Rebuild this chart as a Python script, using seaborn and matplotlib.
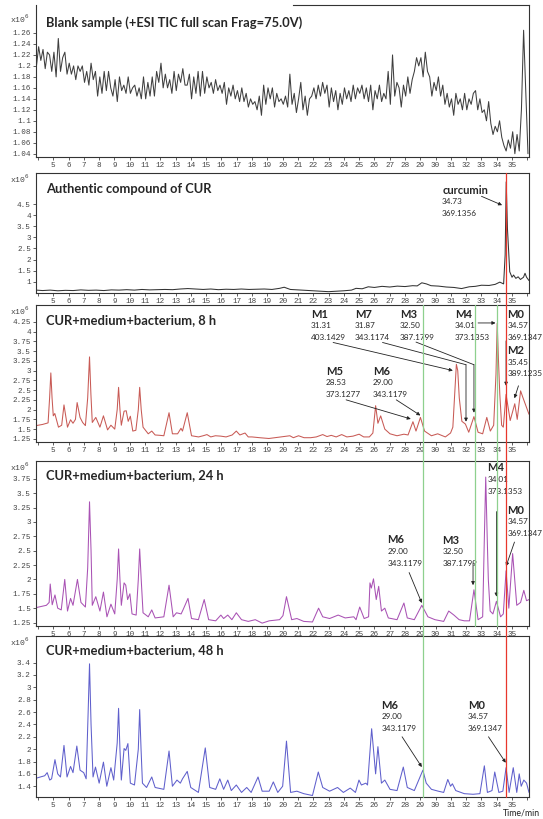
import matplotlib
matplotlib.use("Agg")
import matplotlib.pyplot as plt
import matplotlib.transforms as mtransforms
from matplotlib.lines import Line2D
import numpy as np
import seaborn as sns

W, H, DPI = 543, 819, 100

# ---------------------------------------------------------------- data
# blank sample TIC, one reading every 1/7 min starting at 3.9 min (x10^6)
blank_start = 3.9
blank_step = 1 / 7
blank_v = [
    1.20, 1.235, 1.21, 1.23, 1.195, 1.225, 1.22, 1.19,          # 3.9-5
    1.225, 1.18, 1.25, 1.19, 1.215, 1.225, 1.185,                # 5-6
    1.205, 1.185, 1.20, 1.175, 1.20, 1.19, 1.20,                 # 6-7
    1.17, 1.19, 1.165, 1.205, 1.175, 1.19, 1.145,                # 7-8
    1.18, 1.15, 1.19, 1.155, 1.19, 1.16, 1.145,                  # 8-9
    1.175, 1.135, 1.18, 1.155, 1.165, 1.15, 1.18,                # 9-10
    1.15, 1.16, 1.165, 1.145, 1.16, 1.14, 1.18,                  # 10-11
    1.14, 1.17, 1.145, 1.18, 1.145, 1.19, 1.17,                  # 11-12
    1.205, 1.16, 1.185, 1.16, 1.175, 1.15, 1.19,                 # 12-13
    1.155, 1.185, 1.17, 1.195, 1.165, 1.165, 1.185,              # 13-14
    1.14, 1.18, 1.15, 1.19, 1.145, 1.19, 1.15,                   # 14-15
    1.18, 1.16, 1.17, 1.15, 1.175, 1.155, 1.165,                 # 15-16
    1.15, 1.17, 1.13, 1.16, 1.145, 1.165, 1.14,                  # 16-17
    1.155, 1.135, 1.16, 1.135, 1.15, 1.125, 1.14,                # 17-18
    1.13, 1.135, 1.12, 1.145, 1.11, 1.165, 1.13,                 # 18-19
    1.16, 1.14, 1.16, 1.125, 1.15, 1.135, 1.14,                  # 19-20
    1.13, 1.145, 1.125, 1.185, 1.13, 1.15, 1.115,                # 20-21
    1.14, 1.17, 1.12, 1.145, 1.11, 1.14, 1.145,                  # 21-22
    1.16, 1.14, 1.165, 1.145, 1.17, 1.15, 1.165,                 # 22-23
    1.125, 1.16, 1.135, 1.155, 1.12, 1.15, 1.13,                 # 23-24
    1.16, 1.14, 1.155, 1.135, 1.165, 1.14, 1.16,                 # 24-25
    1.15, 1.165, 1.14, 1.16, 1.135, 1.165, 1.12,                 # 25-26
    1.155, 1.14, 1.165, 1.135, 1.15, 1.14, 1.19,                 # 26-27
    1.13, 1.22, 1.145, 1.17, 1.16, 1.125, 1.165,                 # 27-28
    1.145, 1.18, 1.15, 1.175, 1.19, 1.215, 1.20,                 # 28-29
    1.215, 1.18, 1.225, 1.19, 1.18, 1.145, 1.17,                 # 29-30
    1.155, 1.18, 1.145, 1.165, 1.13, 1.15, 1.125,                # 30-31
    1.14, 1.11, 1.15, 1.13, 1.14, 1.12, 1.15,                    # 31-32
    1.12, 1.14, 1.13, 1.15, 1.155, 1.12, 1.14,                   # 32-33
    1.115, 1.12, 1.10, 1.135, 1.095, 1.075, 1.09,                # 33-34
    1.08, 1.10, 1.07, 1.055, 1.045, 1.065, 1.05,                 # 34-35
    1.08, 1.04, 1.075, 1.045, 1.12, 1.265, 1.15, 1.04,           # 35-36
]

# authentic curcumin standard
cur_t = [3.9, 4.3, 4.8, 5.3, 5.8, 6.3, 6.8, 7.3, 7.8, 8.3, 8.8, 9.3, 9.8, 10.3,
         10.8, 11.3, 11.8, 12.3, 12.8, 13.3, 13.8, 14.3, 14.8, 15.3, 15.8, 16.3,
         16.8, 17.3, 17.8, 18.3, 18.8, 19.3, 19.8, 20.1, 20.5, 21.0, 21.5, 22.0,
         22.5, 23.0, 23.5, 24.0, 24.5, 24.8, 25.2, 25.6, 26.0, 26.5, 27.0, 27.5,
         28.0, 28.5, 28.8, 29.1, 29.4, 29.7, 30.2, 30.7, 31.2, 31.7, 32.2, 32.6,
         33.0, 33.5, 33.9, 34.2, 34.45, 34.55, 34.62, 34.7, 34.85, 35.0, 35.1,
         35.25, 35.4, 35.55, 35.75, 35.85, 35.95, 36.11]
cur_v = [0.62, 0.6, 0.62, 0.59, 0.61, 0.6, 0.63, 0.61, 0.62, 0.6, 0.63, 0.62,
         0.64, 0.62, 0.65, 0.63, 0.64, 0.65, 0.64, 0.67, 0.69, 0.67, 0.65, 0.67,
         0.64, 0.66, 0.65, 0.67, 0.65, 0.66, 0.67, 0.65, 0.7, 0.75, 0.65, 0.63,
         0.61, 0.59, 0.57, 0.55, 0.57, 0.59, 0.62, 0.7, 0.68, 0.77, 0.74, 0.79,
         0.76, 0.8, 0.78, 0.82, 0.81, 0.95, 0.9, 0.82, 0.8, 0.76, 0.74, 0.69,
         0.77, 0.79, 0.84, 0.83, 0.88, 0.98, 0.9, 2.2, 5.5, 3.4, 1.45, 1.2, 1.3,
         1.15, 1.22, 1.1, 1.2, 1.38, 1.2, 1.05]

# CUR + medium + bacterium, 8 h
h8_t = [3.88, 4.3, 4.66, 4.76, 4.84, 4.92, 5.0, 5.1, 5.34, 5.55, 5.7, 5.93, 6.13,
        6.29, 6.45, 6.56, 6.75, 6.92, 7.1, 7.25, 7.37, 7.46, 7.55, 7.78, 8.05,
        8.28, 8.55, 8.77, 9.02, 9.18, 9.27, 9.36, 9.45, 9.63, 9.77, 9.9, 10.04,
        10.2, 10.4, 10.56, 10.65, 10.75, 10.87, 11.21, 11.44, 11.66, 12.0, 12.23,
        12.57, 12.79, 13.13, 13.35, 13.45, 13.76, 14.04, 14.5, 14.8, 15.05, 15.3,
        15.6, 15.96, 16.3, 16.7, 16.97, 17.2, 17.54, 17.75, 17.99, 18.5, 19.1,
        19.5, 19.9, 20.47, 20.7, 21.04, 21.4, 21.83, 22.2, 22.62, 22.9, 23.18,
        23.5, 23.86, 24.2, 24.6, 25.0, 25.3, 25.67, 25.9, 26.08, 26.23, 26.41,
        26.68, 27.02, 27.48, 27.93, 28.2, 28.52, 28.72, 29.01, 29.28, 29.73,
        30.14, 30.64, 30.98, 31.13, 31.28, 31.36, 31.45, 31.55, 31.72, 31.95,
        32.17, 32.51, 32.78, 33.08, 33.35, 33.58, 33.8, 33.95, 34.03, 34.12,
        34.2, 34.32, 34.43, 34.61, 34.88, 35.18, 35.34, 35.56, 35.72, 36.11]
h8_v = [1.59, 1.62, 1.66, 2.3, 2.94, 2.3, 1.84, 1.9, 1.55, 1.6, 2.12, 1.55, 1.74,
        1.65, 1.75, 2.18, 1.8, 1.67, 1.59, 2.3, 3.35, 2.4, 1.67, 1.8, 1.55, 1.84,
        1.48, 1.6, 1.5, 2.0, 2.57, 2.0, 1.6, 1.96, 1.97, 1.7, 1.83, 1.45, 1.47,
        2.0, 2.57, 2.0, 1.55, 1.38, 1.45, 1.35, 1.34, 1.33, 1.92, 1.38, 1.38,
        1.52, 1.45, 1.92, 1.33, 1.3, 1.33, 1.36, 1.3, 1.33, 1.32, 1.3, 1.35,
        1.45, 1.35, 1.4, 1.3, 1.3, 1.28, 1.26, 1.28, 1.3, 1.33, 1.28, 1.33,
        1.28, 1.28, 1.3, 1.36, 1.31, 1.34, 1.3, 1.36, 1.3, 1.32, 1.37, 1.3, 1.3,
        1.4, 2.1, 1.65, 1.84, 1.5, 1.38, 1.33, 1.37, 1.35, 1.69, 1.45, 1.8,
        1.45, 1.33, 1.38, 1.3, 1.4, 1.55, 2.6, 3.16, 3.0, 2.3, 1.7, 1.63, 1.42,
        1.82, 1.42, 1.38, 1.8, 1.45, 1.6, 2.9, 4.21, 3.2, 2.4, 1.6, 1.55, 2.39,
        1.72, 2.15, 1.75, 2.48, 2.3, 1.88]

# CUR + medium + bacterium, 24 h
h24_t = [3.88, 4.55, 4.73, 4.8, 4.93, 5.11, 5.29, 5.52, 5.75, 5.93, 6.13, 6.29,
         6.58, 6.81, 7.1, 7.25, 7.37, 7.47, 7.55, 7.78, 8.05, 8.28, 8.51, 8.77,
         9.02, 9.18, 9.27, 9.36, 9.45, 9.63, 9.74, 9.86, 10.01, 10.15, 10.42,
         10.56, 10.65, 10.75, 10.87, 11.21, 11.44, 11.66, 12.23, 12.57, 12.84,
         13.06, 13.36, 13.5, 13.81, 14.04, 14.49, 14.87, 15.16, 15.62, 15.96,
         16.14, 16.41, 16.68, 16.97, 17.31, 17.75, 18.21, 18.66, 19.12, 19.8,
         20.02, 20.25, 20.59, 20.93, 21.38, 21.95, 22.35, 22.62, 23.07, 23.63,
         24.09, 24.65, 24.8, 25.04, 25.33, 25.62, 25.71, 25.8, 25.94, 26.12,
         26.28, 26.46, 26.68, 26.91, 27.48, 27.93, 28.15, 28.61, 29.1, 29.5,
         29.96, 30.53, 30.86, 31.2, 31.54, 31.88, 32.22, 32.51, 32.78, 33.08,
         33.18, 33.28, 33.38, 33.45, 33.57, 33.75, 33.98, 34.25, 34.43, 34.61,
         34.79, 35.04, 35.31, 35.56, 35.77, 35.95, 36.11]
h24_v = [1.51, 1.55, 1.6, 1.92, 1.56, 1.73, 1.5, 1.47, 2.0, 1.45, 1.67, 1.55, 2.0,
         1.6, 1.52, 2.2, 3.35, 2.5, 1.55, 1.7, 1.45, 1.78, 1.35, 1.57, 1.4, 2.0,
         2.53, 2.0, 1.55, 1.94, 1.9, 1.65, 1.75, 1.4, 1.38, 2.0, 2.53, 2.0, 1.42,
         1.35, 1.47, 1.33, 1.35, 1.9, 1.35, 1.42, 1.4, 1.48, 1.67, 1.32, 1.3,
         1.65, 1.3, 1.28, 1.38, 1.32, 1.38, 1.3, 1.42, 1.3, 1.27, 1.3, 1.24,
         1.28, 1.3, 1.37, 1.7, 1.3, 1.32, 1.27, 1.26, 1.5, 1.35, 1.32, 1.38,
         1.33, 1.35, 1.3, 1.52, 1.32, 1.35, 1.94, 1.85, 2.01, 1.65, 1.88, 1.45,
         1.5, 1.33, 1.3, 1.59, 1.33, 1.3, 1.55, 1.35, 1.3, 1.27, 1.45, 1.38,
         1.3, 1.28, 1.28, 1.82, 1.3, 1.35, 2.6, 3.78, 2.7, 2.0, 1.45, 1.4, 1.62,
         1.35, 1.4, 2.15, 1.5, 2.45, 1.55, 1.6, 1.81, 1.63, 1.65]

# CUR + medium + bacterium, 48 h
h48_t = [3.88, 4.44, 4.6, 4.77, 4.89, 5.11, 5.29, 5.47, 5.7, 5.9, 6.13, 6.29, 6.54,
         6.75, 6.99, 7.15, 7.28, 7.37, 7.47, 7.6, 7.76, 8.0, 8.28, 8.5, 8.77,
         8.95, 9.18, 9.27, 9.36, 9.45, 9.63, 9.74, 9.88, 10.04, 10.31, 10.56,
         10.65, 10.74, 10.83, 11.1, 11.44, 11.66, 12.23, 12.57, 12.79, 13.09,
         13.31, 13.45, 13.76, 13.99, 14.49, 14.94, 15.23, 15.62, 15.89, 16.14,
         16.41, 16.64, 16.97, 17.31, 17.65, 17.94, 18.39, 18.66, 19.12, 19.39,
         19.68, 20.0, 20.25, 20.52, 20.93, 21.38, 21.95, 22.33, 22.62, 23.07,
         23.59, 23.97, 24.42, 24.76, 24.99, 25.15, 25.44, 25.55, 25.82, 26.08,
         26.23, 26.46, 26.68, 27.02, 27.48, 27.89, 28.15, 28.61, 29.17, 29.39,
         29.73, 30.18, 30.53, 30.8, 30.98, 31.1, 31.32, 31.88, 32.45, 32.9,
         33.19, 33.39, 33.69, 33.87, 34.14, 34.4, 34.61, 34.81, 35.08, 35.31,
         35.47, 35.6, 35.77, 35.95, 36.11]
h48_v = [1.53, 1.57, 1.62, 1.5, 1.52, 1.83, 1.6, 1.55, 2.06, 1.55, 1.72, 1.62,
         2.05, 1.66, 1.62, 1.52, 2.6, 3.38, 2.4, 1.55, 1.71, 1.45, 1.79, 1.4,
         1.7, 1.5, 2.1, 2.66, 2.0, 1.5, 2.01, 1.98, 2.09, 1.45, 1.42, 2.0, 2.64,
         2.0, 1.45, 1.38, 1.55, 1.38, 1.35, 1.97, 1.4, 1.5, 1.45, 1.52, 1.64,
         1.38, 1.3, 2.02, 1.38, 1.35, 1.52, 1.35, 1.5, 1.33, 1.42, 1.3, 1.38,
         1.3, 1.55, 1.32, 1.32, 1.47, 1.3, 1.4, 2.13, 1.3, 1.32, 1.28, 1.25,
         1.63, 1.38, 1.32, 1.38, 1.3, 1.37, 1.3, 1.5, 1.42, 1.45, 1.42, 2.33,
         1.6, 2.04, 1.45, 1.5, 1.35, 1.33, 1.71, 1.38, 1.33, 1.66, 1.45, 1.35,
         1.32, 1.3, 1.51, 1.4, 1.44, 1.33, 1.28, 1.27, 1.28, 1.73, 1.3, 1.33,
         1.63, 1.3, 1.32, 1.7, 1.3, 1.7, 1.3, 1.6, 1.4, 1.5, 1.45, 1.3]

titles = ["Blank sample (+ESI TIC full scan Frag=75.0V)",
          "Authentic compound of CUR",
          "CUR+medium+bacterium, 8 h",
          "CUR+medium+bacterium, 24 h",
          "CUR+medium+bacterium, 48 h"]

# peak labels (name, retention time, m/z)
cur_label = ("curcumin", "34.73", "369.1356")
h8_labels = [("M1", "31.31", "403.1429"), ("M7", "31.87", "343.1174"),
             ("M3", "32.50", "387.1799"), ("M4", "34.01", "373.1353"),
             ("M0", "34.57", "369.1347"), ("M2", "35.45", "389.1235"),
             ("M5", "28.53", "373.1277"), ("M6", "29.00", "343.1179")]
h24_labels = [("M4", "34.01", "373.1353"), ("M6", "29.00", "343.1179"),
              ("M3", "32.50", "387.1799"), ("M0", "34.57", "369.1347")]
h48_labels = [("M6", "29.00", "343.1179"), ("M0", "34.57", "369.1347")]

# marker lines (min): red = M0/curcumin, green = M6, M3, M4
red_rt = 34.6
green_rt = [29.15, 32.55, 34.02]

# ---------------------------------------------------------------- layout
sns.set_theme(style="ticks")
plt.rcParams["font.family"] = ["Lato", "DejaVu Sans"]

X0, X1 = 3.87, 36.11
LEFT, RIGHT = 36, 529
boxes = [(5, 157), (173, 293), (305, 442), (461, 626), (636, 797)]
ylims = [(1.034, 1.311), (0.49, 5.9), (1.17, 4.68), (1.19, 4.06), (1.226, 3.83)]
yticks = [np.arange(1.04, 1.261, 0.02), np.arange(1.0, 4.51, 0.5),
          np.arange(1.25, 4.26, 0.25), np.arange(1.25, 3.76, 0.25),
          np.arange(1.4, 3.41, 0.2)]
colors = ["#3f3f3f", "#333333", "#c85a55", "#a952b4", "#5f5fcc"]

fig = plt.figure(figsize=(W / DPI, H / DPI), dpi=DPI)
axes = []
for (top, bot) in boxes:
    axes.append(fig.add_axes([LEFT / W, 1 - bot / H, (RIGHT - LEFT) / W, (bot - top) / H]))

blank_t = blank_start + np.arange(len(blank_v)) * blank_step
series = [(blank_t, blank_v), (cur_t, cur_v), (h8_t, h8_v), (h24_t, h24_v), (h48_t, h48_v)]

tick_font = ["Liberation Mono", "DejaVu Sans Mono"]
for i, ax in enumerate(axes):
    t, v = series[i]
    sns.lineplot(x=np.asarray(t), y=np.asarray(v), ax=ax, color=colors[i],
                 linewidth=0.75, estimator=None, sort=False)
    ax.set_xlim(X0, X1)
    ax.set_ylim(*ylims[i])
    ax.set_xlabel("")
    ax.set_ylabel("")
    xt = list(range(4, 37))
    ax.set_xticks(xt)
    ax.set_xticklabels([str(k) if 5 <= k <= 35 else "" for k in xt])
    yt = yticks[i]
    ax.set_yticks(yt)
    ax.set_yticklabels([f"{y:g}" for y in np.round(yt, 2)])
    ax.tick_params(axis="both", direction="out", length=2.5, width=0.6, pad=1.2,
                   labelsize=5.5, colors="#444444")
    for lab in ax.get_xticklabels() + ax.get_yticklabels():
        lab.set_fontfamily(tick_font)
    for sp in ax.spines.values():
        sp.set_visible(True)
        sp.set_linewidth(0.8)
        sp.set_color("#333333")
    ax.text(-0.012, 1.0 if i else 0.95, r"x10$^{6}$", transform=ax.transAxes,
            ha="right", va="top", fontsize=5.8, family=tick_font, color="#444444")

# titles
title_y = [0.885, 0.87, 0.89, 0.915, 0.91]
for ax, ttl, ty in zip(axes, titles, title_y):
    ax.text(0.021, ty, ttl, transform=ax.transAxes, ha="left", va="center",
            fontsize=9.3, fontweight="bold", family=["Lato", "DejaVu Sans"], zorder=5)

# blank panel: the title box hides the left part of the top frame
axes[0].spines["top"].set_bounds(20.7, X1)


def label(ax, x, y, txt, dy=(0, -8.2, -16.8), name_size=8.0):
    name, rt, mz = txt
    ax.annotate(name, (x, y), xytext=(0, dy[0]), textcoords="offset points",
                ha="left", va="center", fontsize=name_size, fontweight="bold",
                annotation_clip=False, zorder=6)
    for s, d in zip((rt, mz), dy[1:]):
        ax.annotate(s, (x, y), xytext=(0, d), textcoords="offset points",
                    ha="left", va="center", fontsize=5.9, annotation_clip=False,
                    zorder=6)


def arrow(ax, p0, p1, path=None):
    if path is not None:
        ax.plot([p0[0], path[0]], [p0[1], path[1]], color="#222222", lw=0.6, zorder=6)
        p0 = path
    ax.annotate("", xy=p1, xytext=p0, zorder=6, annotation_clip=False,
                arrowprops=dict(arrowstyle="-|>", color="#222222", lw=0.6,
                                mutation_scale=5, shrinkA=0, shrinkB=0))


# authentic compound
ax = axes[1]
label(ax, 30.43, 5.13, cur_label)
arrow(ax, (33.0, 4.85), (34.35, 4.45))

# 8 h
ax = axes[2]
label_pos8 = [(21.83, 4.44), (24.72, 4.44), (27.66, 4.44), (31.27, 4.44),
              (34.7, 4.44), (34.7, 3.51), (22.84, 2.98), (25.9, 2.98)]
for (x, y), txt in zip(label_pos8, h8_labels):
    label(ax, x, y, txt)
arrow(ax, (23.3, 3.72), (31.13, 3.0))
arrow(ax, (26.53, 3.72), (31.99, 1.69), path=(31.99, 3.15))
arrow(ax, (28.72, 3.73), (32.51, 1.92), path=(32.51, 3.15))
arrow(ax, (32.78, 4.22), (33.92, 4.22))
arrow(ax, (34.61, 3.76), (34.61, 2.61))
arrow(ax, (35.42, 2.61), (35.16, 2.29))
arrow(ax, (24.15, 2.25), (28.38, 1.76))
arrow(ax, (27.43, 2.25), (29.01, 1.85))

# 24 h
ax = axes[3]
label_pos24 = [(33.4, 3.94), (26.85, 2.69), (30.45, 2.68), (34.7, 3.2)]
for (x, y), txt in zip(label_pos24, h24_labels):
    label(ax, x, y, txt)
arrow(ax, (33.98, 3.18), (33.98, 1.70))
arrow(ax, (28.27, 2.12), (29.1, 1.59))
arrow(ax, (32.45, 2.28), (32.45, 1.9))
arrow(ax, (35.16, 2.65), (34.61, 2.23))

# 48 h
ax = axes[4]
label_pos48 = [(26.46, 2.71), (32.11, 2.71)]
for (x, y), txt in zip(label_pos48, h48_labels):
    label(ax, x, y, txt)
arrow(ax, (27.81, 2.2), (29.1, 1.71))
arrow(ax, (33.46, 2.2), (34.59, 1.78))

fig.text(540 / W, 1 - 809 / H, "Time/min", ha="right", va="top",
         fontsize=6.3, family=["Lato", "DejaVu Sans"], color="#222222")

# marker lines running through several panels
trans = mtransforms.blended_transform_factory(axes[0].transData, fig.transFigure)
fy = lambda px: 1 - px / H
fig.add_artist(Line2D([red_rt, red_rt], [fy(boxes[1][0]), fy(boxes[4][1])],
                      transform=trans, color="#e8372c", lw=0.9, zorder=4))
fig.add_artist(Line2D([green_rt[0], green_rt[0]], [fy(boxes[2][0]), fy(boxes[4][1])],
                      transform=trans, color="#8ed08e", lw=0.9, zorder=4))
for g in green_rt[1:]:
    fig.add_artist(Line2D([g, g], [fy(boxes[2][0]), fy(boxes[3][1])],
                          transform=trans, color="#8ed08e", lw=0.9, zorder=4))

fig.savefig("out.png", dpi=DPI, facecolor="white")
